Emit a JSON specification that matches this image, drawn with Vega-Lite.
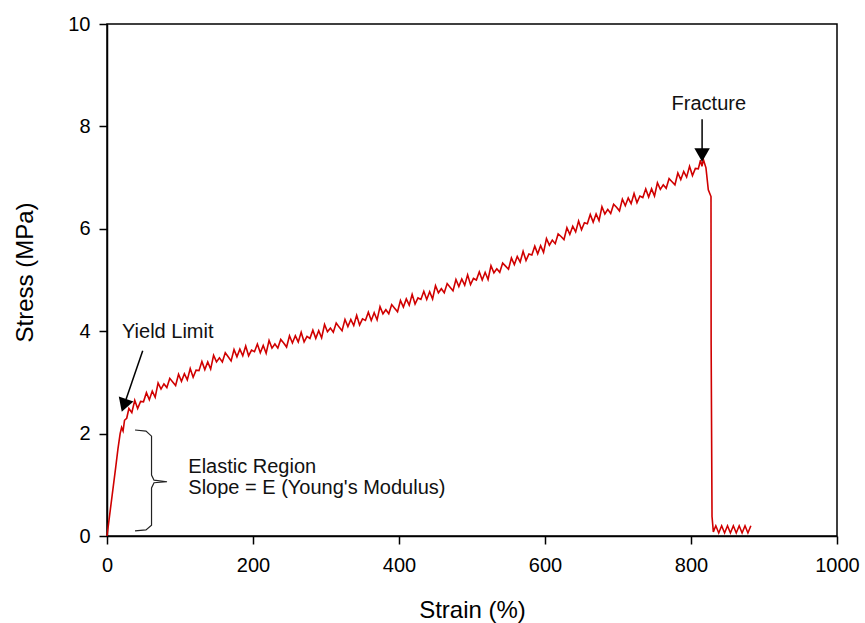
{
  "$schema": "https://vega.github.io/schema/vega-lite/v6.json",
  "width": 730,
  "height": 512,
  "autosize": {"type": "none"},
  "padding": {"left": 107, "top": 24, "right": 28, "bottom": 87},
  "background": "white",
  "config": {
    "font": "Liberation Sans",
    "view": {"stroke": "black", "strokeWidth": 1.5},
    "axis": {
      "grid": false,
      "domainColor": "black",
      "domainWidth": 1.5,
      "tickColor": "black",
      "tickWidth": 1.5,
      "tickSize": 8,
      "labelFont": "Liberation Sans",
      "labelFontSize": 20,
      "labelColor": "black",
      "labelFlush": false,
      "titleFont": "Liberation Sans",
      "titleFontSize": 24,
      "titleFontWeight": "normal",
      "titleColor": "black"
    }
  },
  "datasets": {
    "curve": [
      {"s": 0, "v": 0}, {"s": 4, "v": 0.45}, {"s": 8, "v": 0.9}, {"s": 12, "v": 1.35}, {"s": 15, "v": 1.7},
      {"s": 18, "v": 2.0}, {"s": 20, "v": 2.12}, {"s": 22, "v": 2.05}, {"s": 24, "v": 2.26}, {"s": 27, "v": 2.3},
      {"s": 30, "v": 2.49}, {"s": 34, "v": 2.41}, {"s": 38, "v": 2.65}, {"s": 42, "v": 2.49}, {"s": 46, "v": 2.63},
      {"s": 50, "v": 2.62}, {"s": 54, "v": 2.8}, {"s": 58, "v": 2.66}, {"s": 62, "v": 2.83}, {"s": 66, "v": 2.71},
      {"s": 70, "v": 2.99}, {"s": 74, "v": 2.87}, {"s": 78, "v": 2.97}, {"s": 82, "v": 2.9}, {"s": 86, "v": 3.08},
      {"s": 90, "v": 3.01}, {"s": 94, "v": 2.94}, {"s": 98, "v": 3.16}, {"s": 102, "v": 3.02}, {"s": 106, "v": 3.17},
      {"s": 110, "v": 3.05}, {"s": 114, "v": 3.27}, {"s": 118, "v": 3.1}, {"s": 122, "v": 3.24}, {"s": 126, "v": 3.23},
      {"s": 130, "v": 3.41}, {"s": 134, "v": 3.25}, {"s": 138, "v": 3.4}, {"s": 142, "v": 3.26}, {"s": 146, "v": 3.53},
      {"s": 150, "v": 3.4}, {"s": 154, "v": 3.48}, {"s": 158, "v": 3.4}, {"s": 162, "v": 3.58}, {"s": 166, "v": 3.5},
      {"s": 170, "v": 3.42}, {"s": 174, "v": 3.64}, {"s": 178, "v": 3.5}, {"s": 182, "v": 3.65}, {"s": 186, "v": 3.52},
      {"s": 190, "v": 3.71}, {"s": 194, "v": 3.52}, {"s": 198, "v": 3.63}, {"s": 202, "v": 3.6}, {"s": 206, "v": 3.75},
      {"s": 210, "v": 3.58}, {"s": 214, "v": 3.72}, {"s": 218, "v": 3.57}, {"s": 222, "v": 3.82}, {"s": 226, "v": 3.67},
      {"s": 230, "v": 3.75}, {"s": 234, "v": 3.67}, {"s": 238, "v": 3.84}, {"s": 242, "v": 3.77}, {"s": 246, "v": 3.69},
      {"s": 250, "v": 3.91}, {"s": 254, "v": 3.77}, {"s": 258, "v": 3.91}, {"s": 262, "v": 3.79}, {"s": 266, "v": 3.98},
      {"s": 270, "v": 3.79}, {"s": 274, "v": 3.9}, {"s": 278, "v": 3.86}, {"s": 282, "v": 4.02}, {"s": 286, "v": 3.86},
      {"s": 290, "v": 4.01}, {"s": 294, "v": 3.87}, {"s": 298, "v": 4.13}, {"s": 302, "v": 3.99}, {"s": 306, "v": 4.06},
      {"s": 310, "v": 3.98}, {"s": 314, "v": 4.16}, {"s": 318, "v": 4.08}, {"s": 322, "v": 4.01}, {"s": 326, "v": 4.23},
      {"s": 330, "v": 4.09}, {"s": 334, "v": 4.23}, {"s": 338, "v": 4.11}, {"s": 342, "v": 4.31}, {"s": 346, "v": 4.12},
      {"s": 350, "v": 4.24}, {"s": 354, "v": 4.21}, {"s": 358, "v": 4.37}, {"s": 362, "v": 4.21}, {"s": 366, "v": 4.36},
      {"s": 370, "v": 4.22}, {"s": 374, "v": 4.48}, {"s": 378, "v": 4.34}, {"s": 382, "v": 4.42}, {"s": 386, "v": 4.34},
      {"s": 390, "v": 4.52}, {"s": 394, "v": 4.45}, {"s": 398, "v": 4.38}, {"s": 402, "v": 4.6}, {"s": 406, "v": 4.47},
      {"s": 410, "v": 4.63}, {"s": 414, "v": 4.51}, {"s": 418, "v": 4.72}, {"s": 422, "v": 4.53}, {"s": 426, "v": 4.65},
      {"s": 430, "v": 4.62}, {"s": 434, "v": 4.78}, {"s": 438, "v": 4.62}, {"s": 442, "v": 4.77}, {"s": 446, "v": 4.63},
      {"s": 450, "v": 4.89}, {"s": 454, "v": 4.75}, {"s": 458, "v": 4.83}, {"s": 462, "v": 4.75}, {"s": 466, "v": 4.93},
      {"s": 470, "v": 4.86}, {"s": 474, "v": 4.79}, {"s": 478, "v": 5.01}, {"s": 482, "v": 4.87}, {"s": 486, "v": 5.02},
      {"s": 490, "v": 4.9}, {"s": 494, "v": 5.1}, {"s": 498, "v": 4.91}, {"s": 502, "v": 5.03}, {"s": 506, "v": 5.0},
      {"s": 510, "v": 5.16}, {"s": 514, "v": 5.0}, {"s": 518, "v": 5.15}, {"s": 522, "v": 5.01}, {"s": 526, "v": 5.28},
      {"s": 530, "v": 5.14}, {"s": 534, "v": 5.22}, {"s": 538, "v": 5.15}, {"s": 542, "v": 5.33}, {"s": 546, "v": 5.27},
      {"s": 550, "v": 5.21}, {"s": 554, "v": 5.43}, {"s": 558, "v": 5.3}, {"s": 562, "v": 5.46}, {"s": 566, "v": 5.35},
      {"s": 570, "v": 5.56}, {"s": 574, "v": 5.38}, {"s": 578, "v": 5.51}, {"s": 582, "v": 5.49}, {"s": 586, "v": 5.66},
      {"s": 590, "v": 5.51}, {"s": 594, "v": 5.67}, {"s": 598, "v": 5.54}, {"s": 602, "v": 5.81}, {"s": 606, "v": 5.68},
      {"s": 610, "v": 5.78}, {"s": 614, "v": 5.71}, {"s": 618, "v": 5.9}, {"s": 622, "v": 5.85}, {"s": 626, "v": 5.79},
      {"s": 630, "v": 6.02}, {"s": 634, "v": 5.89}, {"s": 638, "v": 6.05}, {"s": 642, "v": 5.94}, {"s": 646, "v": 6.15},
      {"s": 650, "v": 5.98}, {"s": 654, "v": 6.12}, {"s": 658, "v": 6.1}, {"s": 662, "v": 6.28}, {"s": 666, "v": 6.13},
      {"s": 670, "v": 6.29}, {"s": 674, "v": 6.16}, {"s": 678, "v": 6.43}, {"s": 682, "v": 6.29}, {"s": 686, "v": 6.38},
      {"s": 690, "v": 6.3}, {"s": 694, "v": 6.48}, {"s": 698, "v": 6.42}, {"s": 702, "v": 6.35}, {"s": 706, "v": 6.58},
      {"s": 710, "v": 6.45}, {"s": 714, "v": 6.6}, {"s": 718, "v": 6.49}, {"s": 722, "v": 6.69}, {"s": 726, "v": 6.51},
      {"s": 730, "v": 6.64}, {"s": 734, "v": 6.61}, {"s": 738, "v": 6.78}, {"s": 742, "v": 6.62}, {"s": 746, "v": 6.78},
      {"s": 750, "v": 6.64}, {"s": 754, "v": 6.9}, {"s": 758, "v": 6.77}, {"s": 762, "v": 6.86}, {"s": 766, "v": 6.79},
      {"s": 770, "v": 6.98}, {"s": 774, "v": 6.92}, {"s": 778, "v": 6.86}, {"s": 782, "v": 7.09}, {"s": 786, "v": 6.96},
      {"s": 790, "v": 7.12}, {"s": 794, "v": 7.01}, {"s": 798, "v": 7.22}, {"s": 802, "v": 7.04}, {"s": 806, "v": 7.18},
      {"s": 810, "v": 7.17}, {"s": 813, "v": 7.34}, {"s": 815, "v": 7.22}, {"s": 817, "v": 7.35}, {"s": 820.5, "v": 7.19},
      {"s": 823.7, "v": 6.76}, {"s": 827.4, "v": 6.63}, {"s": 827.6, "v": 3.73}, {"s": 828.8, "v": 0.38}, {"s": 830.6, "v": 0.08},
      {"s": 834, "v": 0.2}, {"s": 838, "v": 0.06}, {"s": 842, "v": 0.2}, {"s": 846, "v": 0.06}, {"s": 850, "v": 0.2},
      {"s": 854, "v": 0.06}, {"s": 858, "v": 0.2}, {"s": 862, "v": 0.06}, {"s": 866, "v": 0.2}, {"s": 870, "v": 0.06},
      {"s": 874, "v": 0.2}, {"s": 878, "v": 0.06}, {"s": 882, "v": 0.2}
    ],
    "bracket": [
      {"i": 0, "s": 38.4, "v": 2.07}, {"i": 1, "s": 53.4, "v": 2.05}, {"i": 2, "s": 61.0, "v": 1.95},
      {"i": 3, "s": 61.0, "v": 1.19}, {"i": 4, "s": 64.4, "v": 1.09}, {"i": 5, "s": 82.2, "v": 1.06},
      {"i": 6, "s": 64.4, "v": 1.04}, {"i": 7, "s": 61.0, "v": 0.94}, {"i": 8, "s": 61.0, "v": 0.21},
      {"i": 9, "s": 53.4, "v": 0.12}, {"i": 10, "s": 38.4, "v": 0.1}
    ],
    "arrows": [
      {"s": 48.9, "v": 3.62, "s2": 23.2, "v2": 2.55},
      {"s": 815.2, "v": 8.14, "s2": 815.2, "v2": 7.5}
    ],
    "yieldHead": [{"s": 23.2, "v": 2.55}],
    "fractureHead": [{"s": 815.2, "v": 7.44}],
    "labelsLeft": [
      {"s": 20.5, "v": 3.87, "t": "Yield Limit"},
      {"s": 111.4, "v": 1.236, "t": "Elastic Region"},
      {"s": 111.4, "v": 0.815, "t": "Slope = E (Young's Modulus)"}
    ],
    "labelsCenter": [
      {"s": 824.4, "v": 8.32, "t": "Fracture"}
    ]
  },
  "layer": [
    {
      "data": {"name": "curve"},
      "mark": {"type": "line", "color": "#d00000", "strokeWidth": 1.6},
      "encoding": {
        "x": {
          "field": "s", "type": "quantitative",
          "scale": {"domain": [0, 1000], "nice": false, "zero": false},
          "axis": {"values": [0, 200, 400, 600, 800, 1000], "format": "d", "title": "Strain (%)", "labelPadding": 11, "titleBaseline": "alphabetic", "titleY": 81}
        },
        "y": {
          "field": "v", "type": "quantitative",
          "scale": {"domain": [0, 10], "nice": false, "zero": false},
          "axis": {"values": [0, 2, 4, 6, 8, 10], "format": "d", "title": "Stress (MPa)", "labelPadding": 9, "titleBaseline": "alphabetic", "titleX": -75, "titleY": 248, "titleAngle": -90, "titleAlign": "center"}
        }
      }
    },
    {
      "data": {"name": "bracket"},
      "mark": {"type": "line", "color": "#222222", "strokeWidth": 1.2},
      "encoding": {
        "x": {"field": "s", "type": "quantitative"},
        "y": {"field": "v", "type": "quantitative"},
        "order": {"field": "i", "type": "quantitative"}
      }
    },
    {
      "data": {"name": "arrows"},
      "mark": {"type": "rule", "color": "black", "strokeWidth": 1.5},
      "encoding": {
        "x": {"field": "s", "type": "quantitative"},
        "y": {"field": "v", "type": "quantitative"},
        "x2": {"field": "s2"},
        "y2": {"field": "v2"}
      }
    },
    {
      "data": {"name": "yieldHead"},
      "mark": {"type": "point", "shape": "triangle-down", "filled": true, "color": "black", "opacity": 1, "size": 240, "angle": 19},
      "encoding": {
        "x": {"field": "s", "type": "quantitative"},
        "y": {"field": "v", "type": "quantitative"}
      }
    },
    {
      "data": {"name": "fractureHead"},
      "mark": {"type": "point", "shape": "triangle-down", "filled": true, "color": "black", "opacity": 1, "size": 240},
      "encoding": {
        "x": {"field": "s", "type": "quantitative"},
        "y": {"field": "v", "type": "quantitative"}
      }
    },
    {
      "data": {"name": "labelsLeft"},
      "mark": {"type": "text", "align": "left", "baseline": "alphabetic", "fontSize": 20, "color": "#111111", "font": "Liberation Sans"},
      "encoding": {
        "x": {"field": "s", "type": "quantitative"},
        "y": {"field": "v", "type": "quantitative"},
        "text": {"field": "t"}
      }
    },
    {
      "data": {"name": "labelsCenter"},
      "mark": {"type": "text", "align": "center", "baseline": "alphabetic", "fontSize": 20, "color": "#111111", "font": "Liberation Sans"},
      "encoding": {
        "x": {"field": "s", "type": "quantitative"},
        "y": {"field": "v", "type": "quantitative"},
        "text": {"field": "t"}
      }
    }
  ]
}
